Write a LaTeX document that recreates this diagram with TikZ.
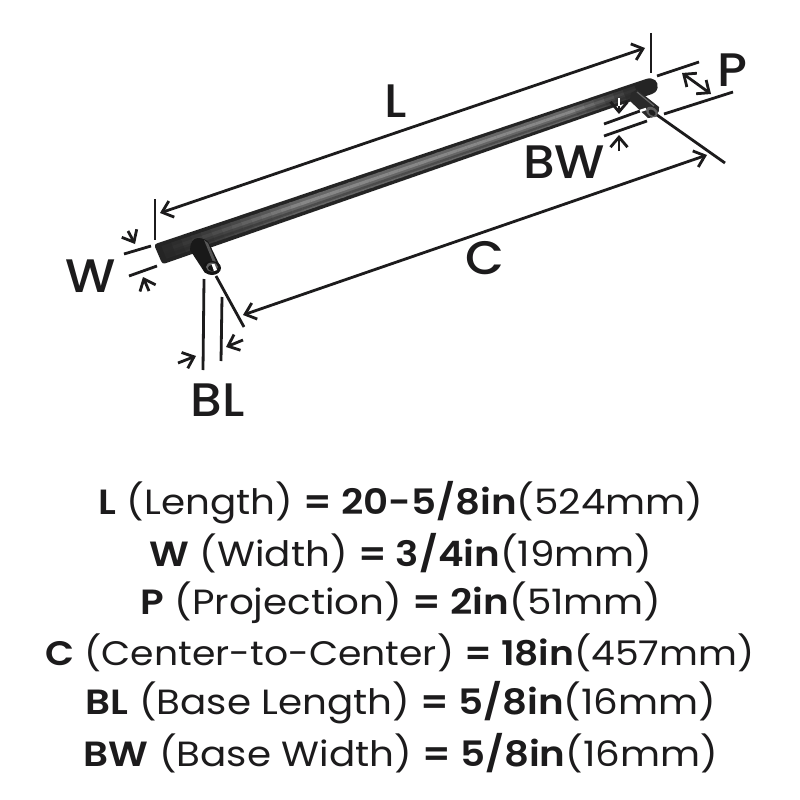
\documentclass[tikz,border=0pt]{standalone}
\usepackage{fontspec}
\setmainfont[BoldFont={Poppins SemiBold},FakeStretch=1.11,BoldFeatures={FakeStretch=1.11}]{Poppins}
\newfontfamily\medfont[FakeStretch=1.07]{Poppins Medium}
\usetikzlibrary{arrows.meta}
\definecolor{ink}{HTML}{1C1B1C}
\tikzset{
  barb/.tip={Straight Barb[length=10pt,width=17pt,line width=2.8pt]},
  extline/.style={draw=ink,line width=2.8pt},
  dimline/.style={draw=ink,line width=2.8pt,-barb},
  dimboth/.style={draw=ink,line width=2.8pt,barb-barb},
  biglabel/.style={text=ink,font=\fontsize{47}{50}\selectfont\medfont,inner sep=0pt,anchor=center},
  specline/.style={text=ink,font=\fontsize{35}{38}\selectfont,inner sep=0pt,anchor=center},
  speclinetight/.style={text=ink,font=\fontsize{34}{37}\selectfont,inner sep=0pt,anchor=center}
}
\newcommand{\bd}[1]{\textbf{#1}}
% one lengthwise slice of the bar between fractions #2 and #3 across it, in grey #1
\newcommand{\barslice}[3]{%
  \pgfmathsetmacro{\ta}{\t}\pgfmathsetmacro{\tb}{\t+0.024}%
  \fill[#1] ({155+491*\ta+(8-2*\ta)*#2},{244-165*\ta+(20-5*\ta)*#2}) --
            ({155+491*\tb+(8-2*\tb)*#2},{244-165*\tb+(20-5*\tb)*#2}) --
            ({155+491*\tb+(8-2*\tb)*#3},{244-165*\tb+(20-5*\tb)*#3}) --
            ({155+491*\ta+(8-2*\ta)*#3},{244-165*\ta+(20-5*\ta)*#3}) -- cycle;}
\begin{document}
\begin{tikzpicture}[x=1pt,y=-1pt]
\useasboundingbox (0,0) rectangle (800,800);
\fill[white] (0,0) rectangle (800,800);
% bar body
\fill[black!86] (157,243.4) -- (646,79) .. controls (654,76.5) and (659,82) .. (657.5,88) .. controls (656.5,92) and (654,93.3) .. (652,94) -- (165,263.4) .. controls (163,264) and (162,263) .. (161,261) -- (155,247) .. controls (154.5,245) and (155.5,244) .. (157,243.4) -- cycle;
\foreach \t in {0.01,0.03,...,0.97}{
  \pgfmathsetmacro{\v}{min(1,max(0,min(\t/0.28,(0.97-\t)/0.14)))}
  \pgfmathsetmacro{\ga}{85-25*\v}
  \pgfmathsetmacro{\gb}{85-38*\v}
  \pgfmathsetmacro{\gc}{85-15*\v}
  \barslice{black!\ga}{0.18}{0.82}
  \barslice{black!\gb}{0.34}{0.50}
  \barslice{black!\gc}{0.62}{0.74}
}
% far post
\fill[black!84] (630,101) -- (631,93) -- (637,89.5) -- (659,107) .. controls (661,112) and (654,119) .. (648,118) -- cycle;
\draw[black!60,line width=1.2pt] (637,92) -- (654,106);
\fill[black!62,rotate around={-35:(652,112)}] (652,112) ellipse[x radius=6.5,y radius=4.5];
\fill[black!88,rotate around={-35:(652,112)}] (652.5,112.5) ellipse[x radius=4,y radius=2.6];
% near post
\fill[black!90] (190,250) .. controls (190,243) and (193,238) .. (198,238) .. controls (203,238) and (207,240) .. (209,243) -- (220,266) -- (205,273) -- cycle;
\fill[black!66] (204,240) -- (208,243) -- (216,262) -- (213,262) -- cycle;
\fill[black!92] (212,268) ellipse[x radius=9,y radius=7];
\fill[black!62] (212,267) ellipse[x radius=6,y radius=4.5];
\fill[black!92] (212,268) ellipse[x radius=4,y radius=3];
\fill[white] (214,271) -- (211.5,264) -- (214.5,264) -- (217,270) -- cycle;
% coordinates
\coordinate (Lx1) at (155,199); \coordinate (Lx2) at (155,240);
\coordinate (Rx1) at (651,33); \coordinate (Rx2) at (651,73);
\coordinate (La) at (160,213); \coordinate (Lb) at (645,48);
\coordinate (Wa1) at (124,254); \coordinate (Wa2) at (151,246);
\coordinate (Wb1) at (129,276); \coordinate (Wb2) at (157,266);
\coordinate (Wt1) at (128,231); \coordinate (Wt2) at (135,244);
\coordinate (Wu1) at (149,291); \coordinate (Wu2) at (143,277);
\coordinate (Ba1) at (204,279); \coordinate (Ba2) at (203,370);
\coordinate (Bb1) at (222,297); \coordinate (Bb2) at (221,361);
\coordinate (Bt1) at (178,363); \coordinate (Bt2) at (196,356);
\coordinate (Bu1) at (243,340); \coordinate (Bu2) at (226,347);
\coordinate (Cx1) at (216,276); \coordinate (Cx2) at (244,327);
\coordinate (Cy1) at (657,115); \coordinate (Cy2) at (725,163);
\coordinate (Ca) at (243,315); \coordinate (Cb) at (707,155);
\coordinate (Pa1) at (657,76); \coordinate (Pa2) at (699,62);
\coordinate (Pb1) at (664,114); \coordinate (Pb2) at (733,92);
\coordinate (Pt1) at (682,73); \coordinate (Pt2) at (711,94);
\coordinate (Wa3) at (604,124); \coordinate (Wa4) at (640,111);
\coordinate (Wa5) at (646,109);
\coordinate (Wb3) at (604,136); \coordinate (Wb4) at (647,121);
\coordinate (Wm0) at (619,98); \coordinate (Wm1) at (619,106); \coordinate (Wm2) at (619,114);
\coordinate (Wn1) at (619,151); \coordinate (Wn2) at (619,135);
% dimensions
\draw[extline] (Lx1) -- (Lx2);
\draw[extline] (Rx1) -- (Rx2);
\draw[dimboth] (La) -- (Lb);
\draw[extline] (Wa1) -- (Wa2);
\draw[extline] (Wb1) -- (Wb2);
\draw[dimline] (Wt1) -- (Wt2);
\draw[dimline] (Wu1) -- (Wu2);
\draw[extline] (Ba1) -- (Ba2);
\draw[extline] (Bb1) -- (Bb2);
\draw[dimline] (Bt1) -- (Bt2);
\draw[dimline] (Bu1) -- (Bu2);
\draw[extline] (Cx1) -- (Cx2);
\draw[extline] (Cy1) -- (Cy2);
\draw[dimboth] (Ca) -- (Cb);
\draw[extline] (Pa1) -- (Pa2);
\draw[extline] (Pb1) -- (Pb2);
\draw[dimboth] (Pt1) -- (Pt2);
\draw[extline] (Wa3) -- (Wa4);
\draw[draw=white,line width=2.4pt] (Wa4) -- (Wa5);
\draw[extline] (Wb3) -- (Wb4);
\draw[draw=white,line width=2pt] (Wm0) -- (Wm1);
\draw[dimline] (Wm1) -- (Wm2);
\draw[dimline] (Wn1) -- (Wn2);
% labels
\node[biglabel] (lL) at (396,101) {L};
\node[biglabel] (lP) at (732,70) {P};
\node[biglabel] (lBW) at (564,162) {BW};
\node[biglabel] (lC) at (485,258) {C};
\node[biglabel] (lW) at (91,276) {W};
\node[biglabel] (lBL) at (218,400) {BL};
\node[specline] (s1) at (401,503) {\bd{L} (Length) \bd{= 20-5/8in}(524mm)};
\node[specline] (s2) at (401,553) {\bd{W} (Width) \bd{= 3/4in}(19mm)};
\node[specline] (s3) at (401,603) {\bd{P} (Projection) \bd{= 2in}(51mm)};
\node[speclinetight] (s4) at (400,653) {\bd{C} (Center-to-Center) \bd{= 18in}(457mm)};
\node[specline] (s5) at (401,703) {\bd{BL} (Base Length) \bd{= 5/8in}(16mm)};
\node[specline] (s6) at (401,753) {\bd{BW} (Base Width) \bd{= 5/8in}(16mm)};
\end{tikzpicture}
\end{document}
